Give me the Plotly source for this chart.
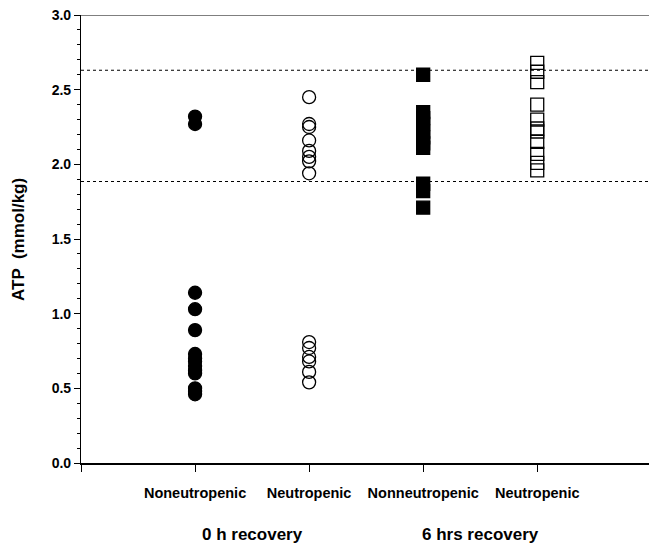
import plotly.graph_objects as go

# Data (ATP, mmol/kg)
categories = ["Noneutropenic", "Neutropenic", "Nonneutropenic", "Neutropenic"]
cat_pos = [1, 2, 3, 4]

nonneut_0h = [2.32, 2.27, 1.14, 1.03, 0.89, 0.73, 0.70, 0.68, 0.65, 0.62, 0.60, 0.50, 0.48, 0.46]
neut_0h = [2.45, 2.27, 2.25, 2.16, 2.09, 2.05, 2.02, 1.94, 0.81, 0.77, 0.71, 0.68, 0.61, 0.54]
nonneut_6h = [2.60, 2.35, 2.31, 2.27, 2.22, 2.18, 2.14, 2.11, 1.87, 1.82, 1.71]
neut_6h = [2.68, 2.62, 2.55, 2.40, 2.30, 2.24, 2.22, 2.15, 2.07, 2.01, 1.96]

ref_lines = [2.63, 1.885]
group_labels = ["0 h recovery", "6 hrs recovery"]
group_pos = [1.5, 3.5]

y_ticks = [0.0, 0.5, 1.0, 1.5, 2.0, 2.5, 3.0]

FONT = "Liberation Sans, Arial, sans-serif"

fig = go.Figure()

series = [
    (nonneut_0h, cat_pos[0], "circle", "black"),
    (neut_0h, cat_pos[1], "circle-open", "black"),
    (nonneut_6h, cat_pos[2], "square", "black"),
    (neut_6h, cat_pos[3], "square-open", "black"),
]
for vals, xpos, sym, col in series:
    fig.add_trace(go.Scatter(
        x=[xpos] * len(vals), y=vals, mode="markers",
        marker=dict(symbol=sym, size=13, color=col,
                    line=dict(color="black", width=1.3)),
        showlegend=False, cliponaxis=False))

for yv in ref_lines:
    fig.add_shape(type="line", xref="paper", x0=0, x1=1, yref="y", y0=yv, y1=yv,
                  line=dict(color="black", width=1.2, dash="3px,3px"))

# top border line
fig.add_shape(type="line", xref="paper", x0=0, x1=1, yref="y", y0=3.0, y1=3.0,
              line=dict(color="black", width=1))

for lab, xp in zip(group_labels, group_pos):
    fig.add_annotation(x=xp, xref="x", y=-0.16, yref="paper", text="<b>" + lab + "</b>",
                       showarrow=False, font=dict(family=FONT, size=17, color="black"),
                       xanchor="center", yanchor="middle")

fig.add_annotation(x=-0.111, xref="paper", y=0.5, yref="paper",
                   text="<b>ATP  (mmol/kg)</b>", textangle=-90, showarrow=False,
                   font=dict(family=FONT, size=17, color="black"),
                   xanchor="center", yanchor="middle")

fig.update_layout(
    width=649, height=547,
    margin=dict(l=81, r=0, t=15, b=84),
    paper_bgcolor="white", plot_bgcolor="white",
    xaxis=dict(range=[0, 4.98], tickvals=[0] + cat_pos, ticktext=[""] + categories,
               showgrid=False, zeroline=False, showline=True, linecolor="black", linewidth=2,
               ticks="outside", ticklen=7, tickwidth=1, tickcolor="black",
               ticklabelstandoff=9,
               tickfont=dict(family=FONT, size=14.5, color="black", weight="bold")),
    yaxis=dict(range=[0, 3.0], tickvals=y_ticks, ticktext=[f"{v:.1f}" for v in y_ticks],
               showgrid=False, zeroline=False, showline=True, linecolor="black", linewidth=1.2,
               ticks="outside", ticklen=6, tickwidth=1, tickcolor="black",
               minor=dict(dtick=0.1, tick0=0, ticks="outside", ticklen=3, tickcolor="black", tickwidth=1),
               tickfont=dict(family=FONT, size=14, color="black", weight="bold")),
)

fig.write_html("out.html")
